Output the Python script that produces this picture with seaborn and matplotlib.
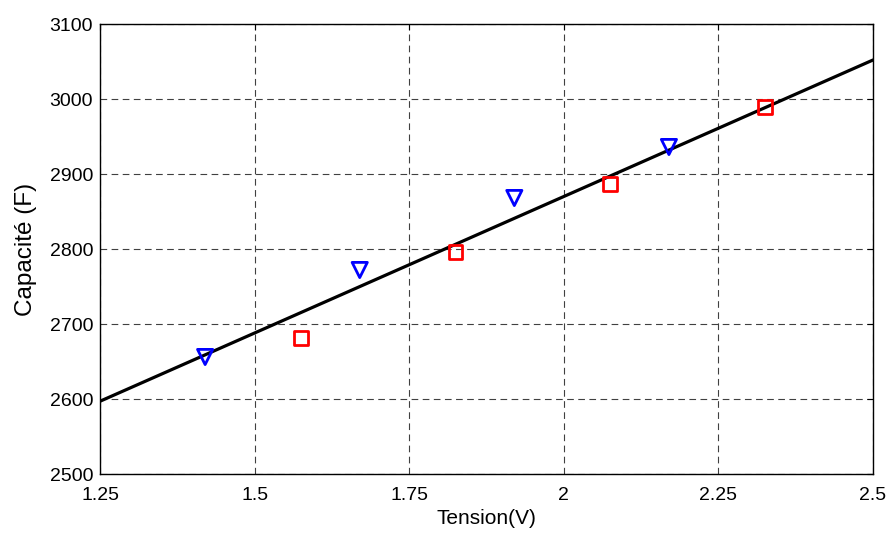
import numpy as np
import pandas as pd
import seaborn as sns
import matplotlib.pyplot as plt

# measured points
tension_tri = [1.42, 1.67, 1.92, 2.17]
capa_tri = [2656, 2772, 2868, 2936]
tension_sq = [1.575, 1.825, 2.075, 2.325]
capa_sq = [2681, 2796, 2887, 2989]

# fitted line
tension_fit = [1.25, 2.5]
capa_fit = [2597, 3052]

x_ticks = [1.25, 1.5, 1.75, 2, 2.25, 2.5]
x_labels = ["1.25", "1.5", "1.75", "2", "2.25", "2.5"]
y_ticks = [2500, 2600, 2700, 2800, 2900, 3000, 3100]

sns.set_style("white")
plt.rcParams['font.family'] = ['Liberation Sans', 'DejaVu Sans']

fig = plt.figure(figsize=(8.92, 5.34), dpi=100)
ax = fig.add_axes([100 / 892, 1 - 474 / 534, 773 / 892, 450 / 534])

fit = pd.DataFrame({"x": tension_fit, "y": capa_fit})
tri = pd.DataFrame({"x": tension_tri, "y": capa_tri})
sq = pd.DataFrame({"x": tension_sq, "y": capa_sq})

sns.lineplot(data=fit, x="x", y="y", color="black", linewidth=2.3, ax=ax, zorder=3)
sns.scatterplot(data=tri, x="x", y="y", marker="v", s=120, facecolors="none",
                edgecolor="#0000ff", linewidth=2, ax=ax, zorder=4)
sns.scatterplot(data=sq, x="x", y="y", marker="s", s=95, facecolors="none",
                edgecolor="#ff0000", linewidth=2, ax=ax, zorder=4)

ax.set_xlim(1.25, 2.5)
ax.set_ylim(2500, 3100)
ax.set_xticks(x_ticks)
ax.set_xticklabels(x_labels)
ax.set_yticks(y_ticks)
ax.grid(True, color="0.25", linestyle=(0, (6, 4)), linewidth=0.8)
ax.set_axisbelow(True)
for s in ax.spines.values():
    s.set_color("black")
    s.set_linewidth(1)
ax.tick_params(direction="in", length=4, top=True, right=True, labelsize=14, colors="black")
ax.tick_params(axis="y", pad=5)
ax.tick_params(axis="x", pad=9)
ax.set_xlabel("Tension(V)", fontsize=15, labelpad=4, color="black")
ax.set_ylabel("Capacité (F)", fontsize=17.5, labelpad=9, color="black")

fig.savefig("out.png", dpi=100)
